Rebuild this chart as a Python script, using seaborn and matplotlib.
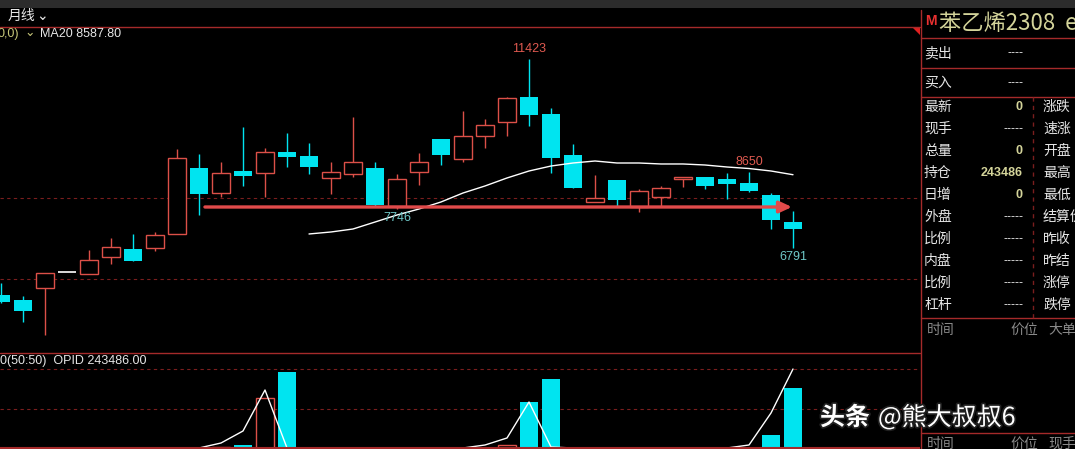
import numpy as np
import pandas as pd
import seaborn as sns
import matplotlib.pyplot as plt
from matplotlib.lines import Line2D
from matplotlib.patches import Polygon
import matplotlib.patheffects as pe

# 苯乙烯2308 月线, 数值是从截图上估读的
opens = [5641, 5519, 5813, 6205, 6156, 6572, 6768, 6793, 7136, 8753,
         8140, 8679, 8630, 9145, 9047, 8508, 8606, 8753, 7821, 8655,
         9463, 8973, 9537, 9880, 10492, 10076, 9071, 7920, 8459, 7797,
         8042, 8483, 8532, 8483, 8385, 8091, 7429]
highs = [5935, 5617, 6180, 6205, 6744, 7038, 7136, 7185, 9218, 9096,
         8900, 9757, 9243, 9610, 9365, 8900, 10002, 8900, 8606, 9120,
         9463, 10149, 9953, 10490, 11423, 10222, 9340, 8581, 8459, 8238,
         8312, 8532, 8532, 8630, 8650, 8140, 7699]
lows = [5445, 4980, 4661, 6205, 6156, 6401, 6474, 6719, 7136, 7601,
        8042, 8312, 8042, 8777, 8606, 8116, 8532, 7800, 7746, 8336,
        8826, 8900, 9243, 9537, 9782, 8630, 8263, 7920, 7821, 7675,
        7821, 8287, 8238, 7993, 8164, 7258, 6791]
closes = [5470, 5249, 6180, 6205, 6499, 6817, 6474, 7111, 8998, 8116,
          8630, 8557, 9145, 9022, 8777, 8655, 8900, 7846, 8483, 8900,
          9071, 9537, 9806, 10468, 10051, 8998, 8263, 8018, 7969, 8189,
          8263, 8532, 8312, 8360, 8189, 7478, 7258]

# MA20 从第 15 根开始有值
ma20_start = 14
ma20 = [7136, 7185, 7258, 7429, 7601, 7748, 7920, 8140, 8312, 8508,
        8679, 8801, 8875, 8924, 8875, 8875, 8851, 8851, 8826, 8777,
        8740, 8679, 8588]

# 极值标注
mark_high = [(24, 11423), (34, 8650)]
mark_low = [(18, 7746), (36, 6791)]

# 支撑线(红箭头)
arrow_level = 7797
arrow_from, arrow_to = 9.27, 35.95

# 价格虚线
price_grid = [8018, 6033]

# 副图 OPID
opid_idx = [10, 11, 12, 13, 23, 24, 25, 35, 36]
opid_val = [1, 3, 50, 76, 3, 46, 69, 13, 60]
opid_up = [True, False, True, False, True, False, False, False, False]
opid_line = [0, 0, 0, 0, 0, 0, 0, 0, 0, 0,
             5, 17, 58, 0, 0, 0, 0, 0, 0, 0,
             0, 0, 3, 10, 46, 1, 0, 0, 0, 0,
             0, 0, 0, 0, 3, 35, 79]
opid_grid = [79, 39]

# 右侧盘口
left_rows = ['最新', '现手', '总量', '持仓', '日增', '外盘', '比例', '内盘', '比例', '杠杆']
left_vals = ['0', '-----', '0', '243486', '0', '-----', '-----', '-----', '-----', '-----']
right_rows = ['涨跌', '速涨', '开盘', '最高', '最低', '结算价', '昨收', '昨结', '涨停', '跌停']
row_y = [107, 129, 151, 173, 195, 217, 239, 261, 283, 305]

RED = '#dc5048'
CYAN = '#00e4f0'
BORDER = '#a52a2a'
GRID = '#7a1e1e'
TXT = '#e6e6e6'
YEL = '#d4d49a'

sns.set_theme(style='dark', rc={'axes.facecolor': 'black', 'figure.facecolor': 'black'})
plt.rcParams['font.family'] = ['Noto Sans CJK SC', 'DejaVu Sans']

W, H = 1075, 449
fig = plt.figure(figsize=(W / 100, H / 100), dpi=100, facecolor='black')


def fx(px):
    return px / W


def fy(py):
    return 1 - py / H


def txt(x, y, s, **kw):
    kw.setdefault('color', TXT)
    kw.setdefault('va', 'center')
    fig.text(fx(x), fy(y), s, **kw)


def line(x0, y0, x1, y1, **kw):
    kw.setdefault('color', BORDER)
    kw.setdefault('lw', 1)
    fig.add_artist(Line2D([fx(x0), fx(x1)], [fy(y0), fy(y1)], transform=fig.transFigure, **kw))


# ---------- 主图 ----------
ax = fig.add_axes([0, fy(353), fx(920), (353 - 27) / H])
ax.set_facecolor('black')
xs = np.arange(len(opens))
bw = 0.82
for i in xs:
    o, h, l, c = opens[i], highs[i], lows[i], closes[i]
    if o == c:
        ax.hlines(o, i - bw / 2, i + bw / 2, color='white', lw=1.2, zorder=3)
        continue
    col = RED if c > o else CYAN
    ax.vlines(i, l, h, color=col, lw=1, zorder=2)
    if c > o:
        ax.bar(i, c - o, bottom=o, width=bw, facecolor='black', edgecolor=RED, lw=1, zorder=3)
    else:
        ax.bar(i, o - c, bottom=c, width=bw, color=CYAN, lw=0, zorder=3)

ma_df = pd.DataFrame({'idx': np.arange(ma20_start, ma20_start + len(ma20)), 'ma20': ma20})
sns.lineplot(data=ma_df, x='idx', y='ma20', ax=ax, color='white', lw=1, zorder=4)

for v in price_grid:
    ax.axhline(v, color=GRID, ls=(0, (3, 3)), lw=0.8, zorder=1)

ax.annotate('', xy=(arrow_to, arrow_level), xytext=(arrow_from, arrow_level),
            arrowprops=dict(arrowstyle='-|>,head_length=0.75,head_width=0.35',
                            color='#e04a4a', lw=2.4, shrinkA=0, shrinkB=0,
                            mutation_scale=10), zorder=5)

for i, v in mark_high:
    ax.annotate(str(v), (i, v), xytext=(0, 3), textcoords='offset points', ha='center',
                va='bottom', color='#e05a50', fontsize=9, family='Liberation Sans', zorder=6)
for i, v in mark_low:
    ax.annotate(str(v), (i, v), xytext=(0, -2), textcoords='offset points', ha='center',
                va='top', color='#6fc8c8', fontsize=9, family='Liberation Sans', zorder=6)

ax.set_xlim(-1 / 22, 919 / 22)
ax.set_ylim(4220, 12207)
ax.set_xticks([])
ax.set_yticks([])
ax.set_xlabel('')
ax.set_ylabel('')
for s in ax.spines.values():
    s.set_visible(False)

# ---------- 副图 ----------
ax2 = fig.add_axes([0, fy(449), fx(920), (449 - 353) / H])
ax2.set_facecolor('black')
for i, v, up in zip(opid_idx, opid_val, opid_up):
    if up:
        ax2.bar(i, v, width=bw, facecolor='black', edgecolor=RED, lw=1, zorder=3)
    else:
        ax2.bar(i, v, width=bw, color=CYAN, lw=0, zorder=3)
op_df = pd.DataFrame({'idx': xs, 'opid': opid_line})
sns.lineplot(data=op_df, x='idx', y='opid', ax=ax2, color='white', lw=1, zorder=4)
for v in opid_grid:
    ax2.axhline(v, color=GRID, ls=(0, (3, 3)), lw=0.8, zorder=1)
ax2.axhline(0, color=BORDER, lw=1.5, zorder=5)
ax2.set_xlim(-1 / 22, 919 / 22)
ax2.set_ylim(-1, 95)
ax2.set_xticks([])
ax2.set_yticks([])
ax2.set_xlabel('')
ax2.set_ylabel('')
for s in ax2.spines.values():
    s.set_visible(False)

# ---------- 边框 ----------
fig.add_artist(plt.Rectangle((0, fy(8)), 1, 8 / H, transform=fig.transFigure,
                             color='#2c2c2c', lw=0))
line(0, 27, 920, 27)
line(0, 353, 920, 353)
line(921, 10, 921, 449)
for yy in [38, 68, 97, 318, 433]:
    line(921, yy, 1075, yy)
line(1033, 97, 1033, 318, ls=(0, (3, 3)), color=GRID)
fig.add_artist(Polygon([[fx(912), fy(27)], [fx(920), fy(27)], [fx(920), fy(35)]],
                       closed=True, transform=fig.transFigure, color='#e02020', lw=0))

# ---------- 文字 ----------
txt(8, 16, '月线', fontsize=10)
txt(36, 16, '⌄', fontsize=10)
txt(-3, 34, '0,0)', fontsize=9, color='#c8c87a', family='Liberation Sans')
txt(24, 33, '⌄', fontsize=9, color='#c8c87a')
txt(40, 34, 'MA20 8587.80', fontsize=9, family='Liberation Sans')
txt(0, 361, '0(50:50)  OPID 243486.00', fontsize=9, family='Liberation Sans')

txt(925, 21, 'M', fontsize=10, color='#e83030', weight='bold', family='Liberation Sans')
txt(939, 24, '苯乙烯2308  eb2308', fontsize=16, color=YEL)
txt(924, 53, '卖出', fontsize=10)
txt(1023, 53, '----', fontsize=9, ha='right', family='Liberation Sans')
txt(924, 83, '买入', fontsize=10)
txt(1023, 83, '----', fontsize=9, ha='right', family='Liberation Sans')
for name, val, rname, yy in zip(left_rows, left_vals, right_rows, row_y):
    txt(924, yy, name, fontsize=10)
    if val == '-----':
        txt(1023, yy, val, fontsize=9, ha='right', family='Liberation Sans')
    else:
        txt(1023, yy, val, fontsize=9, ha='right', color=YEL, weight='bold',
            family='Liberation Sans')
    txt(1043, yy, rname, fontsize=10)
for lab, xx in [('时间', 927), ('价位', 1010), ('大单', 1048)]:
    txt(xx, 330, lab, fontsize=10, color='#8a8a8a')
for lab, xx in [('时间', 927), ('价位', 1010), ('现手', 1048)]:
    txt(xx, 444, lab, fontsize=10, color='#8a8a8a')

shadow = [pe.withStroke(linewidth=2.5, foreground='#202020')]
txt(820, 418, '头条', fontsize=18, color='white', weight='bold', path_effects=shadow)
txt(878, 418, '@熊大叔叔6', fontsize=18, color='white', path_effects=shadow)

fig.savefig('out.png', dpi=100, facecolor='black')
